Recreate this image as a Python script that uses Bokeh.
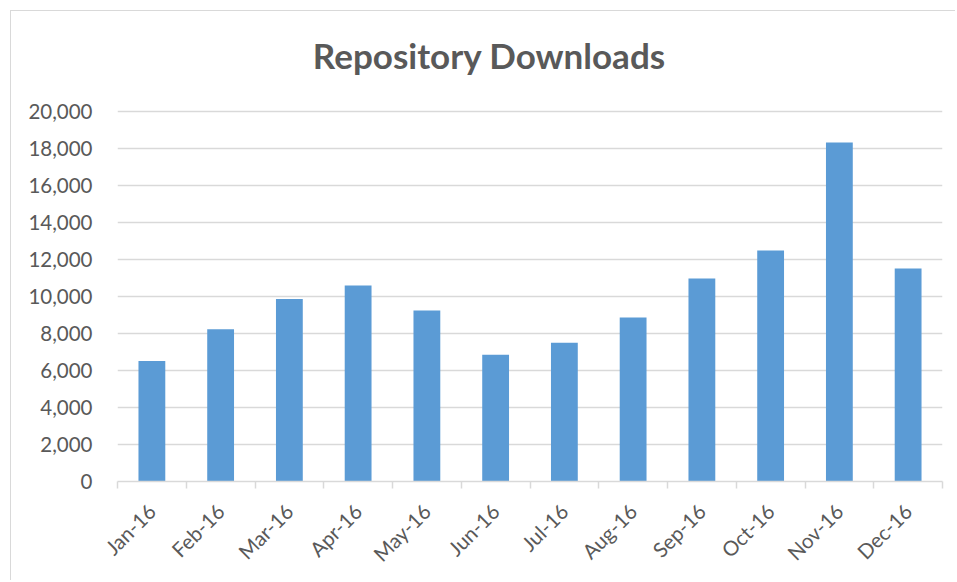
from bokeh.plotting import figure
from bokeh.models import Range1d, FixedTicker, NumeralTickFormatter, ColumnDataSource, Label
from bokeh.embed import file_html
from bokeh.resources import INLINE
import math

months = ["Jan-16", "Feb-16", "Mar-16", "Apr-16", "May-16", "Jun-16",
          "Jul-16", "Aug-16", "Sep-16", "Oct-16", "Nov-16", "Dec-16"]
downloads = [6520, 8230, 9870, 10590, 9240, 6850, 7500, 8860, 10970, 12490, 18320, 11510]
y_ticks = [0, 2000, 4000, 6000, 8000, 10000, 12000, 14000, 16000, 18000, 20000]
title_text = "Repository Downloads"

FONT = "Lato"
GREY = "#595959"
LINE = "#d9d9d9"

# layout: the value axis spans 370px for 0..20000; the frame extends up to the chart top
GRID_H = 370
FRAME_H = 470
y_top = y_ticks[-1] * FRAME_H / GRID_H

xs = [i + 0.5 for i in range(len(months))]
src = ColumnDataSource(dict(x=xs, top=downloads, label=months))

p = figure(width=944, height=569, output_backend="svg", toolbar_location=None,
           x_range=Range1d(0, len(months)), y_range=Range1d(0, y_top),
           min_border_left=106, min_border_right=13, min_border_top=0, min_border_bottom=99,
           frame_width=825, frame_height=FRAME_H)
p.styles = {"margin-left": "10px", "margin-top": "10px",
            "border-top": "1px solid #d9d9d9", "border-left": "1px solid #d9d9d9"}
p.outline_line_color = None

p.vbar(x="x", top="top", width=0.39, source=src, fill_color="#5B9BD5", line_color=None)

# chart title, centred on the whole chart box
p.add_layout(Label(x=5.41, y=23080, text=title_text, text_align="center",
                   text_baseline="alphabetic", text_font=FONT, text_font_size="35px",
                   text_font_style="bold", text_color=GREY))

# x axis
xa = p.xaxis[0]
xa.ticker = FixedTicker(ticks=xs, minor_ticks=list(range(len(months) + 1)))
xa.major_label_overrides = {x: m for x, m in zip(xs, months)}
xa.major_label_orientation = math.pi / 4
xa.major_tick_line_color = None
xa.minor_tick_line_color = LINE
xa.minor_tick_out = 7
xa.minor_tick_in = 0
xa.minor_tick_line_width = 1.5
xa.axis_line_color = LINE
xa.axis_line_width = 1.5
xa.major_label_text_font = FONT
xa.major_label_text_font_size = "20.5px"
xa.major_label_text_color = GREY
xa.major_label_standoff = 19

# y axis
ya = p.yaxis[0]
ya.ticker = FixedTicker(ticks=y_ticks, minor_ticks=[])
ya.formatter = NumeralTickFormatter(format="0,0")
ya.axis_line_color = None
ya.major_tick_line_color = None
ya.minor_tick_line_color = None
ya.major_label_text_font = FONT
ya.major_label_text_font_size = "20.5px"
ya.major_label_text_color = GREY
ya.major_label_standoff = 19

p.xgrid.grid_line_color = None
p.ygrid.grid_line_color = LINE
p.ygrid.grid_line_width = 1.5
p.ygrid.ticker = FixedTicker(ticks=y_ticks, minor_ticks=[])

open("out.html", "w").write(file_html(p, INLINE))
